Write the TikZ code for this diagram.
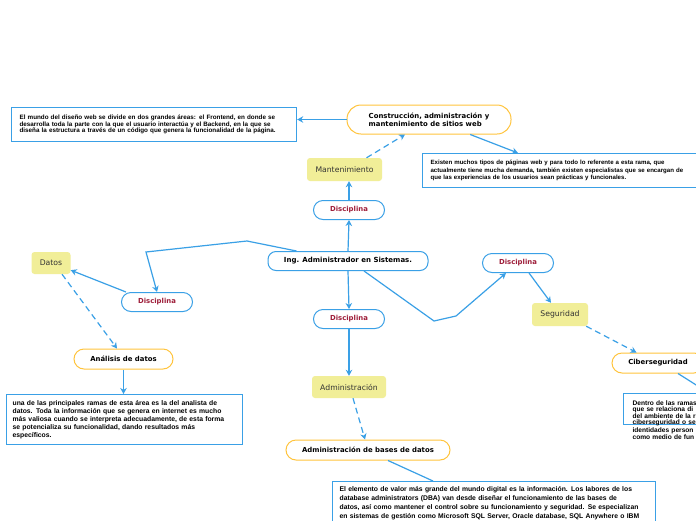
\documentclass[tikz,border=0pt]{standalone}
\usepackage{fontspec}
\setmainfont{Liberation Sans}
\newfontfamily\verd{DejaVu Sans}
\usetikzlibrary{arrows.meta,calc}
\definecolor{lineblue}{RGB}{58,160,230}
\definecolor{suborange}{RGB}{255,196,61}
\definecolor{topicyellow}{RGB}{241,238,152}
\definecolor{discred}{RGB}{158,30,58}
\begin{document}
\begin{tikzpicture}[x=1pt,y=-1pt,
    conn/.style={draw=lineblue,line width=1.2pt,-{Stealth[length=6pt,width=6.5pt]}},
    dconn/.style={conn,dash pattern=on 6pt off 4pt},
    plain/.style={draw=lineblue,line width=1.2pt},
    root/.style={draw=lineblue,line width=1pt,fill=white,rounded corners=8pt,
      minimum width=160pt,minimum height=19pt,inner sep=0pt,
      font=\verd\bfseries\fontsize{7}{8}\selectfont},
    disc/.style={draw=lineblue,line width=1pt,fill=white,rounded corners=9.5pt,
      minimum width=71pt,minimum height=19pt,inner sep=0pt,text=discred,
      font=\verd\bfseries\fontsize{6.9}{8}\selectfont},
    topic/.style={fill=topicyellow,rounded corners=3pt,inner sep=0pt,
      minimum height=23pt,text=black!80,font=\verd\fontsize{7.7}{9}\selectfont},
    sub/.style={draw=suborange,line width=1pt,fill=white,rounded corners=10pt,
      minimum height=20pt,inner sep=0pt,
      font=\verd\bfseries\fontsize{6.9}{8}\selectfont},
    note/.style={draw=lineblue,line width=1.2pt,fill=white,anchor=north west,
      align=left,inner xsep=8pt,font=\bfseries\fontsize{6.3}{6.7}\selectfont}
    ]
  \useasboundingbox (0,0) rectangle (696,520);
  \clip (0,0) rectangle (696,520);
  \fill[white] (0,0) rectangle (696,520);

  % centre and branches
  \node [root] (main) at (348,261) {Ing. Administrador en Sistemas.};
  \node [disc] (disTop) at (349,210) {Disciplina};
  \node [disc] (disMid) at (349,319) {Disciplina};
  \node [disc] (disLeft) at (157,302) {Disciplina};
  \node [disc] (disRight) at (518,263) {Disciplina};

  \node [topic,minimum width=75pt] (mant) at (344.5,169.5) {Mantenimiento};
  \node [topic,minimum width=74pt,minimum height=22pt] (adm) at (349,387) {Administración};
  \node [topic,minimum width=39pt,minimum height=22pt] (datos) at (51,263) {Datos};
  \node [topic,minimum width=56pt] (seg) at (560,314.5) {Seguridad};

  \node [sub,minimum width=164pt,minimum height=29pt,rounded corners=14pt,align=left] (constr) at (429,119.5)
    {Construcción, administración y\\mantenimiento de sitios web};
  \node [sub,minimum width=164pt] (adb) at (368,450) {Administración de bases de datos};
  \node [sub,minimum width=99pt] (analisis) at (123.5,359) {Análisis de datos};
  \node [sub,minimum width=92pt] (ciber) at (658,363) {Ciberseguridad};

  % notes
  \node [note,text width=269pt,minimum height=34pt] (boxWeb) at (11,107)
    {El mundo del diseño web se divide en dos grandes áreas: el Frontend, en donde se\\
     desarrolla toda la parte con la que el usuario interactúa  y el Backend, en la que se\\
     diseña la estructura a través de un código que genera la funcionalidad de la página.};
  \node [note,text width=280pt,minimum height=34pt,font=\bfseries\fontsize{6.1}{7.5}\selectfont] (boxTR) at (422,153)
    {Existen muchos tipos de páginas web y para todo lo referente a esta rama, que\\
     actualmente tiene mucha demanda, también existen especialistas que se encargan de\\
     que las experiencias de los usuarios sean prácticas y funcionales.};
  \node [note,text width=224pt,inner xsep=6pt,minimum height=50pt,font=\bfseries\fontsize{6.8}{7.9}\selectfont] (boxAna) at (6,394)
    {una de las principales ramas de esta área es la del analista de\\
     datos. Toda la información que se genera en internet es mucho\\
     más valiosa cuando se interpreta adecuadamente, de esta forma\\
     se potencializa su funcionalidad, dando resultados más\\
     específicos.};
  \node [note,text width=92pt,inner xsep=9pt,inner ysep=7.5pt,text depth=11pt,font=\bfseries\fontsize{6.6}{5.9}\selectfont] (boxCiber) at (623,393)
    {Dentro de las ramas\\
     que se relaciona di\\
     del ambiente de la r\\
     ciberseguridad o se\\
     identidades person\\
     como medio de fun};
  \node [note,text width=309pt,inner xsep=7pt,inner ysep=5pt,font=\bfseries\fontsize{6.8}{9}\selectfont] (boxDB) at (332,481)
    {El elemento de valor más grande del mundo digital es la información. Los labores de los\\
     database administrators (DBA)  van desde diseñar el funcionamiento de las bases de\\
     datos, así como mantener el control sobre su funcionamiento y  seguridad. Se especializan\\
     en sistemas de gestión como Microsoft SQL Server,  Oracle database, SQL Anywhere o IBM};
  \coordinate (ciberEnd) at (712,395);

  % connectors
  \draw [conn] (main.north) -- (disTop.south);
  \draw [conn] (main.south) -- (disMid.north);
  \draw [conn] ($(main.north west)+(29,0)$) -- (247,241) -- (146,252) -- (disLeft.north);
  \draw [conn] ($(main.south)+(16,0)$) -- (434,321) -- (456,316) -- ($(disRight.south west)+(24,0)$);
  \draw [conn] (disTop.north) -- (disTop.north |- mant.south);
  \draw [dconn] ($(mant.north)+(22,0)$) -- ($(constr.south)+(-24,0)$);
  \draw [conn] (constr.west) -- (constr.west -| boxWeb.east);
  \draw [conn] (constr.-20) -- ($(boxTR.north west)+(96,0)$);
  \draw [conn] (disMid.south) -- (adm.north);
  \draw [dconn] ($(adm.south)+(4,0)$) -- ($(adb.north)+(-3,0)$);
  \draw [plain] ($(adb.south)+(20,0)$) -- ($(boxDB.north west)+(101,0)$);
  \draw [conn] ($(disLeft.north west)+(5,0)$) -- (datos.-20);
  \draw [dconn] ($(datos.south)+(11,0)$) -- ($(analisis.north)+(-6.5,0)$);
  \draw [conn] (analisis.south) -- (boxAna.north -| analisis.south);
  \draw [conn] ($(disRight.south)+(11,0)$) -- ($(seg.north)+(-9,0)$);
  \draw [dconn] ($(seg.south east)+(-2,0)$) -- ($(ciber.north west)+(25,0)$);
  \draw [plain] ($(ciber.south)+(20,0)$) -- (ciberEnd);
\end{tikzpicture}
\end{document}
